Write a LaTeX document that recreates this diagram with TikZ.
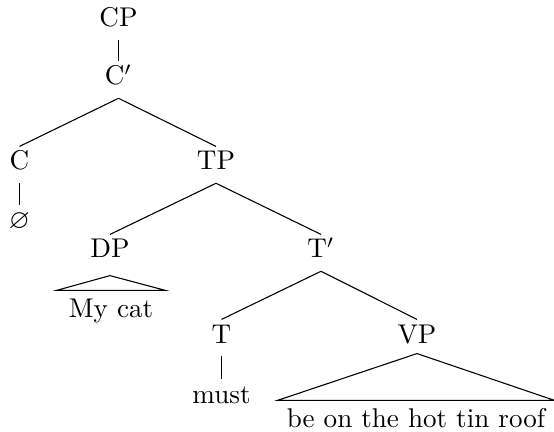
\documentclass[tikz,border=0pt]{standalone}
\usepackage{amssymb}
\begin{document}
\begin{tikzpicture}[x=0.369pt,y=-0.369pt,
  lab/.style={anchor=base, inner sep=0pt, text height=8.5pt, text depth=4.7pt},
  roofleaf/.style={anchor=base, inner ysep=0pt, text height=9.6pt, text depth=0pt}]
\useasboundingbox (0,0) rectangle (554,432);
\node[lab] (cp) at (118.5,27) {CP};
\node[lab] (cbar) at (118.5,85) {C$'$};
\node[lab] (c) at (19.5,170) {C};
\node[lab] (tp) at (216,170) {TP};
\node[lab] (empty) at (19.5,229) {$\varnothing$};
\node[lab] (dp) at (110,258) {DP};
\node[lab] (tbar) at (321,258) {T$'$};
\node[lab] (t) at (221.5,343) {T};
\node[lab] (vp) at (417,343) {VP};
\node[lab] (must) at (221.5,403) {must};
\node[roofleaf, inner xsep=4.4pt] (mycat) at (111,317) {My cat};
\node[roofleaf, inner xsep=3.3pt] (beon) at (416,427) {be on the hot tin roof};
\draw (cp.south) -- (cbar.north);
\draw (cbar.south) -- (c.north);
\draw (cbar.south) -- (tp.north);
\draw (c.south) -- (empty.north);
\draw (tp.south) -- (dp.north);
\draw (tp.south) -- (tbar.north);
\draw (tbar.south) -- (t.north);
\draw (tbar.south) -- (vp.north);
\draw (t.south) -- (must.north);
\draw ([yshift=-1.6pt]dp.south) -- (mycat.north west) -- (mycat.north east) -- cycle;
\draw ([yshift=1pt]vp.south) -- (beon.north west) -- (beon.north east) -- cycle;
\end{tikzpicture}
\end{document}
